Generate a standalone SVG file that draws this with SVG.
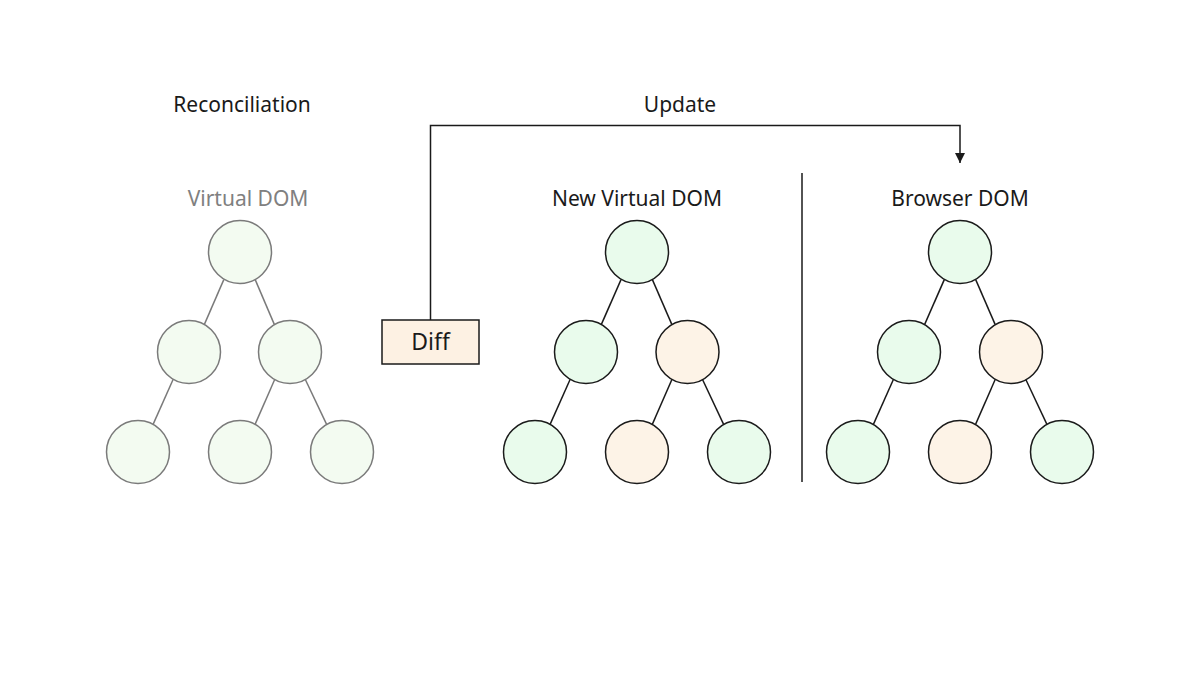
<svg xmlns="http://www.w3.org/2000/svg" width="1200" height="691" viewBox="0 0 1200 691">
<defs>
<style>
.t{font-family:"Noto Sans","Open Sans",sans-serif;font-size:21px;fill:#1a1a1a;text-anchor:middle}
.g{fill:#808080}
.cg{fill:#f3fbf1;stroke:#7a7a7a;stroke-width:1.5}
.cG{fill:#e9fbec;stroke:#1a1a1a;stroke-width:1.5}
.cP{fill:#fdf3e7;stroke:#1a1a1a;stroke-width:1.5}
.eg{stroke:#7a7a7a;stroke-width:1.5}
.eb{stroke:#1a1a1a;stroke-width:1.5}
</style>
<marker id="arr" viewBox="0 0 10 10" refX="10" refY="5" markerWidth="10" markerHeight="10" markerUnits="userSpaceOnUse" orient="auto">
<path d="M0,0 L10,5 L0,10 z" fill="#1a1a1a"/>
</marker>
</defs>
<rect width="1200" height="691" fill="#ffffff"/>
<text class="t" x="242" y="112">Reconciliation</text>
<text class="t" x="680" y="112">Update</text>
<text class="t g" x="248" y="206">Virtual DOM</text>
<text class="t" x="637" y="206">New Virtual DOM</text>
<text class="t" x="960" y="206">Browser DOM</text>
<g id="connectors" fill="none">
<line class="eg" x1="223.8" y1="279.6" x2="204.4" y2="324.4"/>
<line class="eg" x1="255.2" y1="279.6" x2="274.3" y2="324.4"/>
<line class="eg" x1="173.2" y1="379.3" x2="153.2" y2="424.1"/>
<line class="eg" x1="274.8" y1="379.3" x2="255.2" y2="424.1"/>
<line class="eg" x1="305.2" y1="379.3" x2="326.5" y2="424.1"/>
<line class="eb" x1="621" y1="279.6" x2="601.4" y2="324.4"/>
<line class="eb" x1="652.4" y1="279.6" x2="671.8" y2="324.4"/>
<line class="eb" x1="570.2" y1="379.3" x2="550.2" y2="424.1"/>
<line class="eb" x1="672" y1="379.3" x2="652.4" y2="424.1"/>
<line class="eb" x1="702.4" y1="379.3" x2="723.5" y2="424.1"/>
<line class="eb" x1="944.3" y1="279.6" x2="924.7" y2="324.4"/>
<line class="eb" x1="975.7" y1="279.6" x2="995.1" y2="324.4"/>
<line class="eb" x1="893.5" y1="379.3" x2="873.5" y2="424.1"/>
<line class="eb" x1="995.3" y1="379.3" x2="975.7" y2="424.1"/>
<line class="eb" x1="1025.7" y1="379.3" x2="1046.8" y2="424.1"/>
<path class="eb" d="M430.5,320 V125.5 H960 V163" marker-end="url(#arr)"/>
<line class="eb" x1="802" y1="173" x2="802" y2="482"/>
</g>
<g id="vdom">
<circle id="v1" class="cg" cx="240" cy="252" r="31.5"/>
<circle id="v2" class="cg" cx="189" cy="352" r="31.5"/>
<circle id="v3" class="cg" cx="290" cy="352" r="31.5"/>
<circle id="v4" class="cg" cx="138" cy="452" r="31.5"/>
<circle id="v5" class="cg" cx="240" cy="452" r="31.5"/>
<circle id="v6" class="cg" cx="342" cy="452" r="31.5"/>
</g>
<g id="diff">
<rect x="382" y="320" width="97" height="44" fill="#fdf1e3" stroke="#1a1a1a" stroke-width="1.5"/>
<text class="t" x="430.5" y="350" style="font-size:23px">Diff</text>
</g>
<g id="newvdom">
<circle id="n1" class="cG" cx="637" cy="252" r="31.5"/>
<circle id="n2" class="cG" cx="586" cy="352" r="31.5"/>
<circle id="n3" class="cP" cx="687.5" cy="352" r="31.5"/>
<circle id="n4" class="cG" cx="535" cy="452" r="31.5"/>
<circle id="n5" class="cP" cx="637" cy="452" r="31.5"/>
<circle id="n6" class="cG" cx="739" cy="452" r="31.5"/>
</g>
<g id="browserdom">
<circle id="b1" class="cG" cx="960" cy="252" r="31.5"/>
<circle id="b2" class="cG" cx="909" cy="352" r="31.5"/>
<circle id="b3" class="cP" cx="1011" cy="352" r="31.5"/>
<circle id="b4" class="cG" cx="858" cy="452" r="31.5"/>
<circle id="b5" class="cP" cx="960" cy="452" r="31.5"/>
<circle id="b6" class="cG" cx="1062" cy="452" r="31.5"/>
</g>
</svg>
